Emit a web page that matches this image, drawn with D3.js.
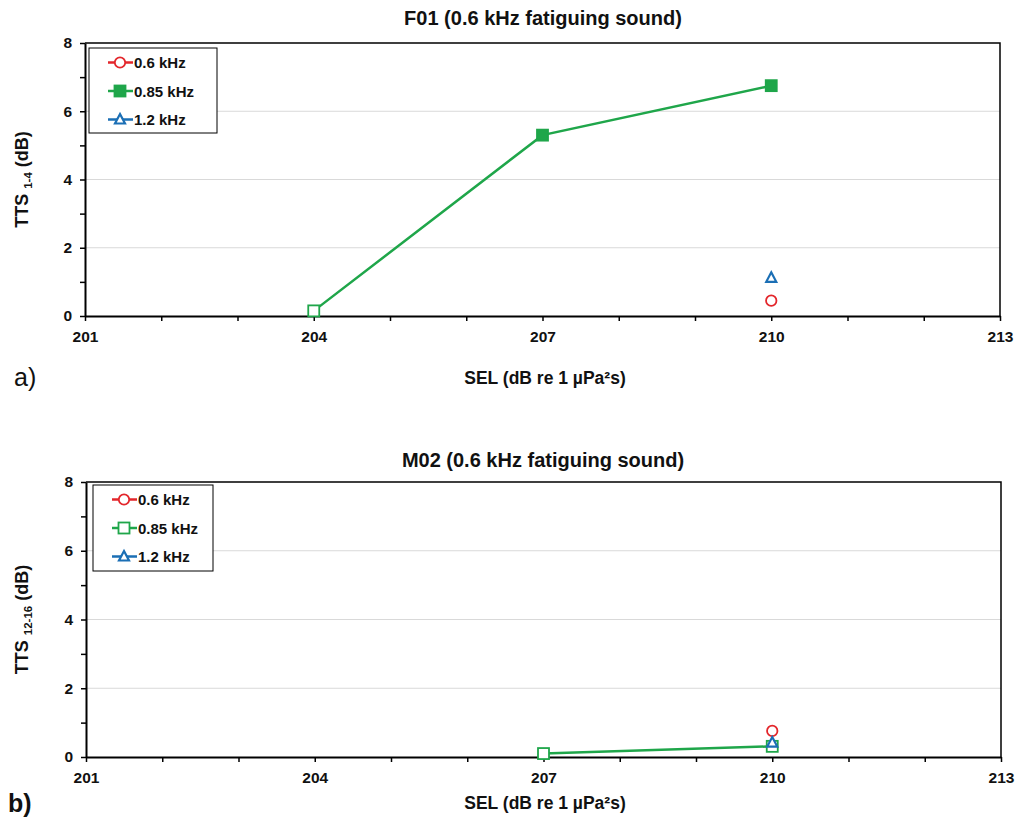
<!DOCTYPE html>
<html>
<head>
<meta charset="utf-8">
<script src="https://cdn.jsdelivr.net/npm/d3@7"></script>
<style>
  body { margin: 0; background: #fff; }
  text { font-family: "Liberation Sans", Arial, sans-serif; }
</style>
</head>
<body>
<div class="canvas"></div>
<script>
// axis values
const selTicks = [201, 204, 207, 210, 213];
const ttsTicks = [0, 2, 4, 6, 8];
const seriesNames = ['0.6 kHz', '0.85 kHz', '1.2 kHz'];
const seriesColors = ['#e3262b', '#1fa64a', '#1b6fb5'];
const seriesShapes = ['circle', 'square', 'triangle'];

// F01 data
const f01Sel06 = [210];
const f01Tts06 = [0.45];
const f01Sel085 = [204, 207, 210];
const f01Tts085 = [0.15, 5.3, 6.75];
const f01Filled085 = [false, true, true];
const f01Sel12 = [210];
const f01Tts12 = [1.12];

// M02 data
const m02Sel06 = [210];
const m02Tts06 = [0.76];
const m02Sel085 = [207, 210];
const m02Tts085 = [0.1, 0.31];
const m02Filled085 = [false, false];
const m02Sel12 = [210];
const m02Tts12 = [0.42];

const svg = d3.select('.canvas')
  .append('svg')
    .attr('width', 1019)
    .attr('height', 819);

const zip = (xs, ys, filled) => xs.map((x, i) => ({ x, y: ys[i], filled: filled ? filled[i] : false }));

const panels = [
  {
    title: 'F01 (0.6 kHz fatiguing sound)', sub: '1-4', tag: 'a)',
    left: 85, right: 1000, top: 43, bottom: 316,
    titleY: 25, xLabelY: 384, tagX: 14, tagY: 386, tagWeight: 'normal',
    legend: { x: 89, y: 48, w: 128, h: 85, filled: [false, true, false] },
    series: [
      zip(f01Sel06, f01Tts06),
      zip(f01Sel085, f01Tts085, f01Filled085),
      zip(f01Sel12, f01Tts12)
    ]
  },
  {
    title: 'M02 (0.6 kHz fatiguing sound)', sub: '12-16', tag: 'b)',
    left: 86, right: 1001, top: 482, bottom: 757,
    titleY: 467, xLabelY: 809, tagX: 8, tagY: 812, tagWeight: 'bold',
    legend: { x: 93, y: 485, w: 120, h: 86, filled: [false, false, false] },
    series: [
      zip(m02Sel06, m02Tts06),
      zip(m02Sel085, m02Tts085, m02Filled085),
      zip(m02Sel12, m02Tts12)
    ]
  }
];

function drawMarker(g, shape, color, filled, cx, cy) {
  const fill = filled ? color : '#fff';
  if (shape === 'circle') {
    g.append('circle').attr('cx', cx).attr('cy', cy).attr('r', 5.2)
      .attr('fill', fill).attr('stroke', color).attr('stroke-width', 1.8);
  } else if (shape === 'square') {
    g.append('rect').attr('x', cx - 5.5).attr('y', cy - 5.5).attr('width', 11).attr('height', 11)
      .attr('fill', fill).attr('stroke', color).attr('stroke-width', 1.8);
  } else {
    g.append('path').attr('d', `M${cx},${cy - 5.5}L${cx + 5},${cy + 4}L${cx - 5},${cy + 4}Z`)
      .attr('fill', fill).attr('stroke', color).attr('stroke-width', 2.2);
  }
}

panels.forEach(p => {
  const w = p.right - p.left;
  const h = p.bottom - p.top;

  const x = d3.scaleLinear().domain([201, 213]).range([0, w]);
  const y = d3.scaleLinear().domain([0, 8]).range([h, 0]);

  const graph = svg.append('g')
    .attr('transform', `translate(${p.left}, ${p.top})`);

  // gridlines
  graph.selectAll('line.grid')
    .data(ttsTicks.filter(t => t > 0 && t < 8))
    .enter().append('line')
      .attr('x1', 0).attr('x2', w)
      .attr('y1', d => y(d)).attr('y2', d => y(d))
      .attr('stroke', '#d9d9d9').attr('stroke-width', 1);

  // top and right border
  graph.append('path')
    .attr('d', `M0,0H${w}V${h}`)
    .attr('fill', 'none').attr('stroke', '#000').attr('stroke-width', 1.5);

  const xAxis = d3.axisBottom(x)
    .tickValues(d3.range(201, 214))
    .tickSize(5)
    .tickSizeOuter(0)
    .tickFormat(d => selTicks.includes(d) ? d : '');
  const yAxis = d3.axisLeft(y)
    .tickValues(d3.range(0, 9))
    .tickSize(5)
    .tickSizeOuter(0)
    .tickFormat(d => ttsTicks.includes(d) ? d : '');

  const xg = graph.append('g').attr('transform', `translate(0, ${h})`).call(xAxis);
  const yg = graph.append('g').call(yAxis);

  [xg, yg].forEach(g => {
    g.select('.domain').attr('stroke', '#000').attr('stroke-width', 2);
    g.selectAll('.tick line').attr('stroke', '#000').attr('stroke-width', 1.5);
    g.selectAll('text')
      .attr('fill', '#111')
      .style('font-family', '"Liberation Sans", Arial, sans-serif')
      .style('font-size', '15.5px')
      .style('font-weight', 'bold');
  });
  xg.selectAll('text').attr('y', 26).attr('dy', 0);
  yg.selectAll('text').attr('x', -13);

  // series
  const line = d3.line().x(d => x(d.x)).y(d => y(d.y));
  p.series.forEach((data, i) => {
    if (data.length > 1) {
      graph.append('path')
        .datum(data)
        .attr('d', line)
        .attr('fill', 'none')
        .attr('stroke', seriesColors[i])
        .attr('stroke-width', 2.5);
    }
    data.forEach(d => drawMarker(graph, seriesShapes[i], seriesColors[i], d.filled, x(d.x), y(d.y)));
  });

  // legend
  const lg = svg.append('g').attr('transform', `translate(${p.legend.x}, ${p.legend.y})`);
  lg.append('rect')
    .attr('width', p.legend.w).attr('height', p.legend.h)
    .attr('fill', '#fff').attr('stroke', '#000').attr('stroke-width', 1);
  seriesNames.forEach((name, i) => {
    const ly = 14.5 + i * 28.5;
    lg.append('line')
      .attr('x1', 19).attr('x2', 44).attr('y1', ly).attr('y2', ly)
      .attr('stroke', seriesColors[i]).attr('stroke-width', 2.5);
    drawMarker(lg, seriesShapes[i], seriesColors[i], p.legend.filled[i], 31, ly);
    lg.append('text')
      .attr('x', 45).attr('y', ly + 5.5)
      .style('font-size', '15px').style('font-weight', 'bold')
      .attr('fill', '#111')
      .text(name);
  });

  // title
  svg.append('text')
    .attr('x', 543).attr('y', p.titleY)
    .attr('text-anchor', 'middle')
    .style('font-size', '20px').style('font-weight', 'bold')
    .attr('fill', '#111')
    .text(p.title);

  // x label
  svg.append('text')
    .attr('x', 545).attr('y', p.xLabelY)
    .attr('text-anchor', 'middle')
    .style('font-size', '17.5px').style('font-weight', 'bold')
    .attr('fill', '#111')
    .text('SEL (dB re 1 µPa²s)');

  // y label
  const yl = svg.append('text')
    .attr('transform', `translate(28, ${(p.top + p.bottom) / 2}) rotate(-90)`)
    .attr('text-anchor', 'middle')
    .style('font-size', '18px').style('font-weight', 'bold')
    .attr('fill', '#111');
  yl.append('tspan').text('TTS ');
  yl.append('tspan').attr('dy', 4).style('font-size', '11.5px').text(p.sub);
  yl.append('tspan').attr('dy', -4).text(' (dB)');

  // panel tag
  svg.append('text')
    .attr('x', p.tagX).attr('y', p.tagY)
    .style('font-size', '25px').style('font-weight', p.tagWeight)
    .attr('fill', '#111')
    .text(p.tag);
});
</script>
</body>
</html>
